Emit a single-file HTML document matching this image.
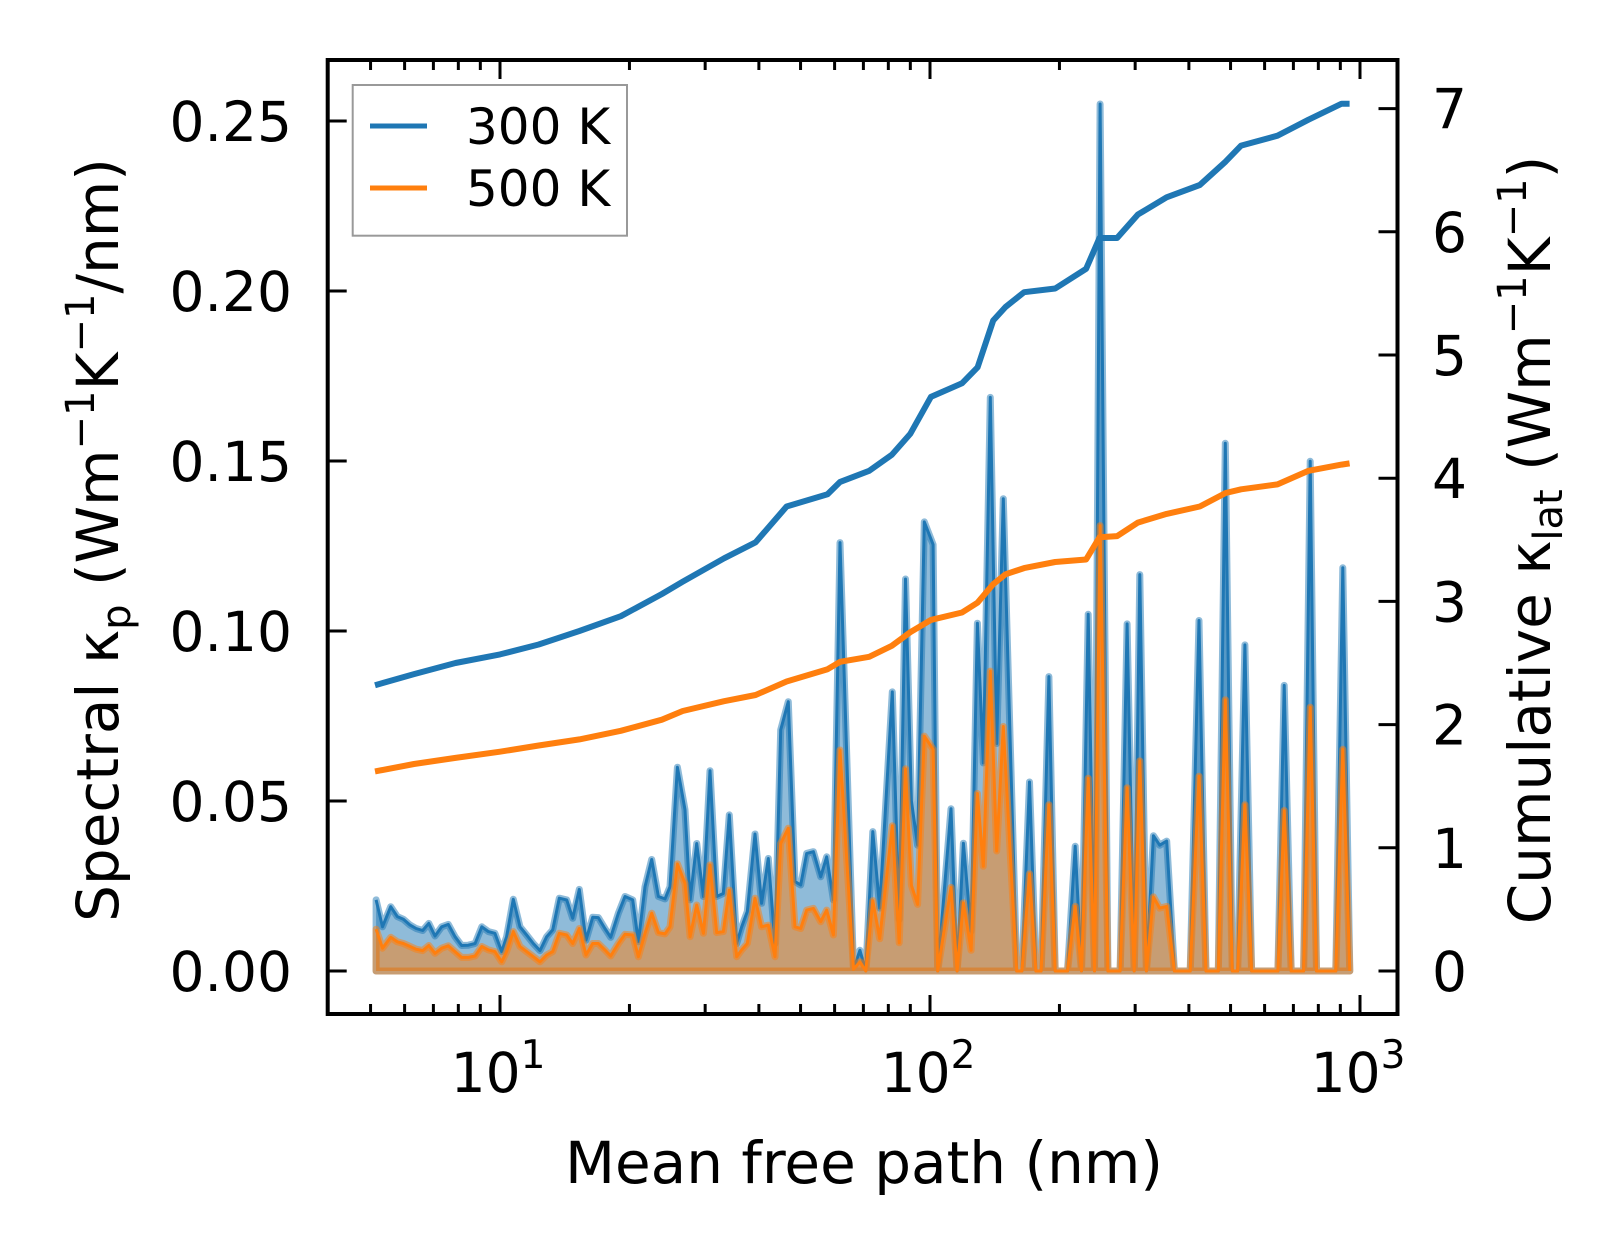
<!DOCTYPE html>
<html><head><meta charset="utf-8"><style>
html,body{margin:0;padding:0;background:#fff;}
svg{display:block;font-family:"DejaVu Sans","Liberation Sans",sans-serif;}
</style></head><body>
<svg id="chart" width="1623" height="1254" viewBox="0 0 1623 1254" xmlns="http://www.w3.org/2000/svg">
<rect x="0" y="0" width="1623" height="1254" fill="#fff"/>
<g id="plot"></g>
</svg>
<script>
// Spectral data: mean free path (nm), spectral kappa at 300K and 500K
const mfp = [5.15,5.33,5.57,5.77,5.96,6.18,6.38,6.61,6.83,7.06,7.32,7.58,7.86,8.14,8.44,8.75,9.07,9.40,9.73,10.09,10.36,10.74,11.13,11.53,11.95,12.39,12.84,13.26,13.74,14.29,14.76,15.29,15.85,16.43,16.93,17.54,18.09,18.85,19.53,20.35,20.98,21.74,22.53,23.35,24.19,24.85,25.85,26.93,27.67,28.67,29.72,30.79,31.91,33.06,34.14,35.51,36.48,37.60,39.17,40.59,42.07,43.60,44.95,46.83,48.53,50.03,51.67,53.55,55.69,57.51,59.60,61.76,66.4,68.7,70.9,73.6,76.4,81.7,84.8,87.7,90.5,93.6,97.0,101.7,104.2,111.9,115.6,119.6,124.6,128.9,133.0,138.1,142.9,148.1,159.1,163.6,170.4,176.3,181.3,189.0,195.5,208.8,217.6,225.1,233.3,241.3,248.7,259.2,276.8,287.4,298.4,307.5,318.6,330.8,342.1,355.2,370.2,402.9,422.3,438.5,468.2,486.1,504.7,519.1,540.0,559.6,644.3,666.5,692.0,739.2,766.0,792.3,878.6,912.0,946.9];
const spec300 = [0.0209,0.0130,0.0189,0.0160,0.0152,0.0135,0.0125,0.0119,0.0140,0.0103,0.0130,0.0137,0.0101,0.0075,0.0076,0.0081,0.0130,0.0116,0.0111,0.0057,0.0101,0.0211,0.0130,0.0106,0.0081,0.0060,0.0101,0.0121,0.0214,0.0209,0.0155,0.0240,0.0091,0.0158,0.0157,0.0125,0.0099,0.0170,0.0219,0.0209,0.0086,0.0248,0.0328,0.0219,0.0212,0.0248,0.0599,0.0474,0.0209,0.0375,0.0219,0.0589,0.0219,0.0228,0.0459,0.0081,0.0130,0.0175,0.0403,0.0199,0.0331,0.0081,0.0709,0.0792,0.0263,0.0253,0.0346,0.0351,0.0277,0.0336,0.0209,0.1260,0.0005,0.0061,0.0,0.0410,0.0185,0.0821,0.0151,0.1153,0.0500,0.0370,0.1321,0.1254,0.0,0.0477,0.0,0.0376,0.0117,0.1023,0.0612,0.1687,0.0669,0.1389,0.0,0.0,0.0556,0.0,0.0,0.0866,0.0,0.0,0.0367,0.0,0.1049,0.0,0.2550,0.0,0.0,0.1021,0.0,0.1166,0.0,0.0398,0.0370,0.0382,0.0,0.0,0.1031,0.0,0.0,0.1552,0.0,0.0,0.0959,0.0,0.0,0.0840,0.0,0.0,0.1499,0.0,0.0,0.1186,0.0];
const spec500 = [0.0123,0.0067,0.0099,0.0086,0.0081,0.0072,0.0064,0.0060,0.0075,0.0052,0.0067,0.0074,0.0057,0.0040,0.0040,0.0044,0.0072,0.0062,0.0057,0.0027,0.0057,0.0116,0.0072,0.0057,0.0042,0.0027,0.0047,0.0057,0.0111,0.0106,0.0081,0.0125,0.0047,0.0081,0.0081,0.0062,0.0044,0.0081,0.0108,0.0106,0.0042,0.0111,0.0170,0.0113,0.0109,0.0130,0.0315,0.0258,0.0101,0.0194,0.0111,0.0312,0.0113,0.0116,0.0238,0.0042,0.0062,0.0081,0.0214,0.0130,0.0135,0.0042,0.0375,0.0420,0.0130,0.0125,0.0179,0.0184,0.0145,0.0179,0.0106,0.0650,0.0005,0.0027,0.0,0.0207,0.0095,0.0427,0.0083,0.0595,0.0252,0.0196,0.0691,0.0652,0.0,0.0246,0.0,0.0201,0.0061,0.0522,0.0308,0.0882,0.0353,0.0719,0.0,0.0,0.0286,0.0,0.0,0.0489,0.0,0.0,0.0190,0.0,0.0567,0.0,0.1310,0.0,0.0,0.0539,0.0,0.0618,0.0,0.0218,0.0185,0.0190,0.0,0.0,0.0573,0.0,0.0,0.0798,0.0,0.0,0.0489,0.0,0.0,0.0472,0.0,0.0,0.0776,0.0,0.0,0.0652,0.0];
// Cumulative data
const cumX300 = [5.12,6.31,7.88,10,12.3,15.3,19.1,23.8,26.6,33.2,39.3,46.4,57.8,61.8,72.2,81.5,90.0,100.5,118.7,129.0,140.3,149.8,165.5,195.5,230.7,247.9,272.3,304.2,355,424,487,529,643,759,906,946];
const cum300 = [2.32,2.41,2.50,2.57,2.65,2.76,2.88,3.06,3.16,3.35,3.48,3.77,3.87,3.97,4.06,4.19,4.36,4.66,4.77,4.90,5.28,5.39,5.51,5.54,5.70,5.95,5.95,6.14,6.28,6.38,6.57,6.70,6.78,6.91,7.04,7.04];
const cumX500 = cumX300;
const cum500 = [1.62,1.68,1.73,1.78,1.83,1.88,1.95,2.04,2.11,2.19,2.24,2.35,2.45,2.51,2.55,2.64,2.75,2.85,2.91,2.99,3.14,3.22,3.27,3.32,3.34,3.52,3.53,3.64,3.71,3.77,3.88,3.91,3.95,4.06,4.11,4.12];
const leftTicks = [0,0.05,0.10,0.15,0.20,0.25];
const leftTickLabels = ["0.00","0.05","0.10","0.15","0.20","0.25"];
const rightTicks = [0,1,2,3,4,5,6,7];
const xMajor = [1,2,3];
const xMinorMult = [2,3,4,5,6,7,8,9];

const NS="http://www.w3.org/2000/svg";
const L=327.7,R=1397.5,T=60,B=1014;
const X0=500,DEC=430;
function xs(v){return X0+(Math.log10(v)-1)*DEC;}
function yl(v){return 971-v*3400;}
function yr(v){return 971-v*123.2;}
const g=document.getElementById('plot');
function mk(tag,attrs,parent){const e=document.createElementNS(NS,tag);for(const k in attrs)e.setAttribute(k,attrs[k]);(parent||g).appendChild(e);return e;}

const defs=mk('defs',{});
const cp=mk('clipPath',{id:'clip'},defs);
mk('rect',{x:L,y:T,width:R-L,height:B-T},cp);
const data=mk('g',{'clip-path':'url(#clip)'});

function fillSeries(vals,color,name){
  let d='M'+xs(mfp[0])+','+yl(0);
  for(let i=0;i<mfp.length;i++)d+=' L'+xs(mfp[i]).toFixed(1)+','+yl(vals[i]).toFixed(1);
  d+=' L'+xs(mfp[mfp.length-1])+','+yl(0)+' Z';
  const p=mk('path',{d:d,fill:color,'fill-opacity':0.5,stroke:color,'stroke-opacity':0.5,'stroke-width':7,'stroke-linejoin':'round'},data);
  
  
  let pts=mfp.map((m,i)=>xs(m).toFixed(1)+','+yl(vals[i]).toFixed(1)).join(' ');
  const l=mk('polyline',{points:pts,fill:'none',stroke:color,'stroke-width':3,'stroke-linejoin':'round'},data);
  
  
}
fillSeries(spec300,'#1f77b4','spectral-300k');
fillSeries(spec500,'#ff7f0e','spectral-500k');

function cumLine(xv,vals,color,name){
  const pts=xv.map((m,i)=>xs(m).toFixed(1)+','+yr(vals[i]).toFixed(1)).join(' ');
  const l=mk('polyline',{points:pts,fill:'none',stroke:color,'stroke-width':6,'stroke-linejoin':'round'},data);
  
  
}
cumLine(cumX300,cum300,'#1f77b4','cumulative-300k');
cumLine(cumX500,cum500,'#ff7f0e','cumulative-500k');

const tk=mk('g',{stroke:'#000','stroke-width':3});


leftTicks.forEach((v,i)=>{
  const y=yl(v);
  mk('line',{x1:L,x2:L+19,y1:y,y2:y},tk);
  const t=mk('text',{x:292,y:y+20,'text-anchor':'end','font-size':55,fill:'#000',stroke:'none'});
  t.textContent=leftTickLabels[i];
  
  
});
rightTicks.forEach(v=>{
  const y=yr(v);
  mk('line',{x1:R-19,x2:R,y1:y,y2:y},tk);
  const t=mk('text',{x:1432,y:y+20,'text-anchor':'start','font-size':55,fill:'#000',stroke:'none'});
  t.textContent=String(v);
  
  
});
xMajor.forEach(p=>{
  const x=xs(Math.pow(10,p));
  mk('line',{x1:x,x2:x,y1:B,y2:B-19},tk);
  mk('line',{x1:x,x2:x,y1:T,y2:T+19},tk);
  const t=mk('text',{x:x-2,y:1092,'text-anchor':'middle','font-size':55,fill:'#000',stroke:'none'});
  t.textContent='10';
  const s=mk('tspan',{dy:-24,'font-size':39},t);
  s.textContent=String(p);
  
  
});
[0,1,2].forEach(p=>{
  xMinorMult.forEach(m=>{
    const v=m*Math.pow(10,p);
    const x=xs(v);
    if(x<L+3||x>R-3)return;
    mk('line',{x1:x,x2:x,y1:B,y2:B-10},tk);
    mk('line',{x1:x,x2:x,y1:T,y2:T+10},tk);
  });
});

const sp=mk('rect',{x:L,y:T,width:R-L,height:B-T,fill:'none',stroke:'#000','stroke-width':4});



const xl=mk('text',{x:864,y:1183,'text-anchor':'middle','font-size':58,fill:'#000'});
xl.textContent='Mean free path (nm)';



const ylab=mk('text',{transform:'translate(118,540) rotate(-90)','text-anchor':'middle','font-size':58,fill:'#000'});
ylab.innerHTML='Spectral κ<tspan font-size="40" dy="12">p</tspan><tspan dy="-12"> (Wm</tspan><tspan font-size="40" dy="-24">−1</tspan><tspan dy="24">K</tspan><tspan font-size="40" dy="-24">−1</tspan><tspan dy="24">/nm)</tspan>';



const yrl=mk('text',{transform:'translate(1550,540) rotate(-90)','text-anchor':'middle','font-size':58,fill:'#000'});
yrl.innerHTML='Cumulative κ<tspan font-size="40" dy="12">lat</tspan><tspan dy="-12"> (Wm</tspan><tspan font-size="40" dy="-24">−1</tspan><tspan dy="24">K</tspan><tspan font-size="40" dy="-24">−1</tspan><tspan dy="24">)</tspan>';



const lg=mk('g',{});


mk('rect',{x:352.7,y:85,width:274.3,height:150.7,fill:'#fff',stroke:'#999','stroke-width':2},lg);
const le1=mk('line',{x1:370,x2:427,y1:126,y2:126,stroke:'#1f77b4','stroke-width':5},lg);


const lt1=mk('text',{x:466,y:144,'font-size':50,fill:'#000'},lg);
lt1.textContent='300 K';
const le2=mk('line',{x1:370,x2:427,y1:188,y2:188,stroke:'#ff7f0e','stroke-width':5},lg);


const lt2=mk('text',{x:466,y:206,'font-size':50,fill:'#000'},lg);
lt2.textContent='500 K';
</script>
</body></html>
